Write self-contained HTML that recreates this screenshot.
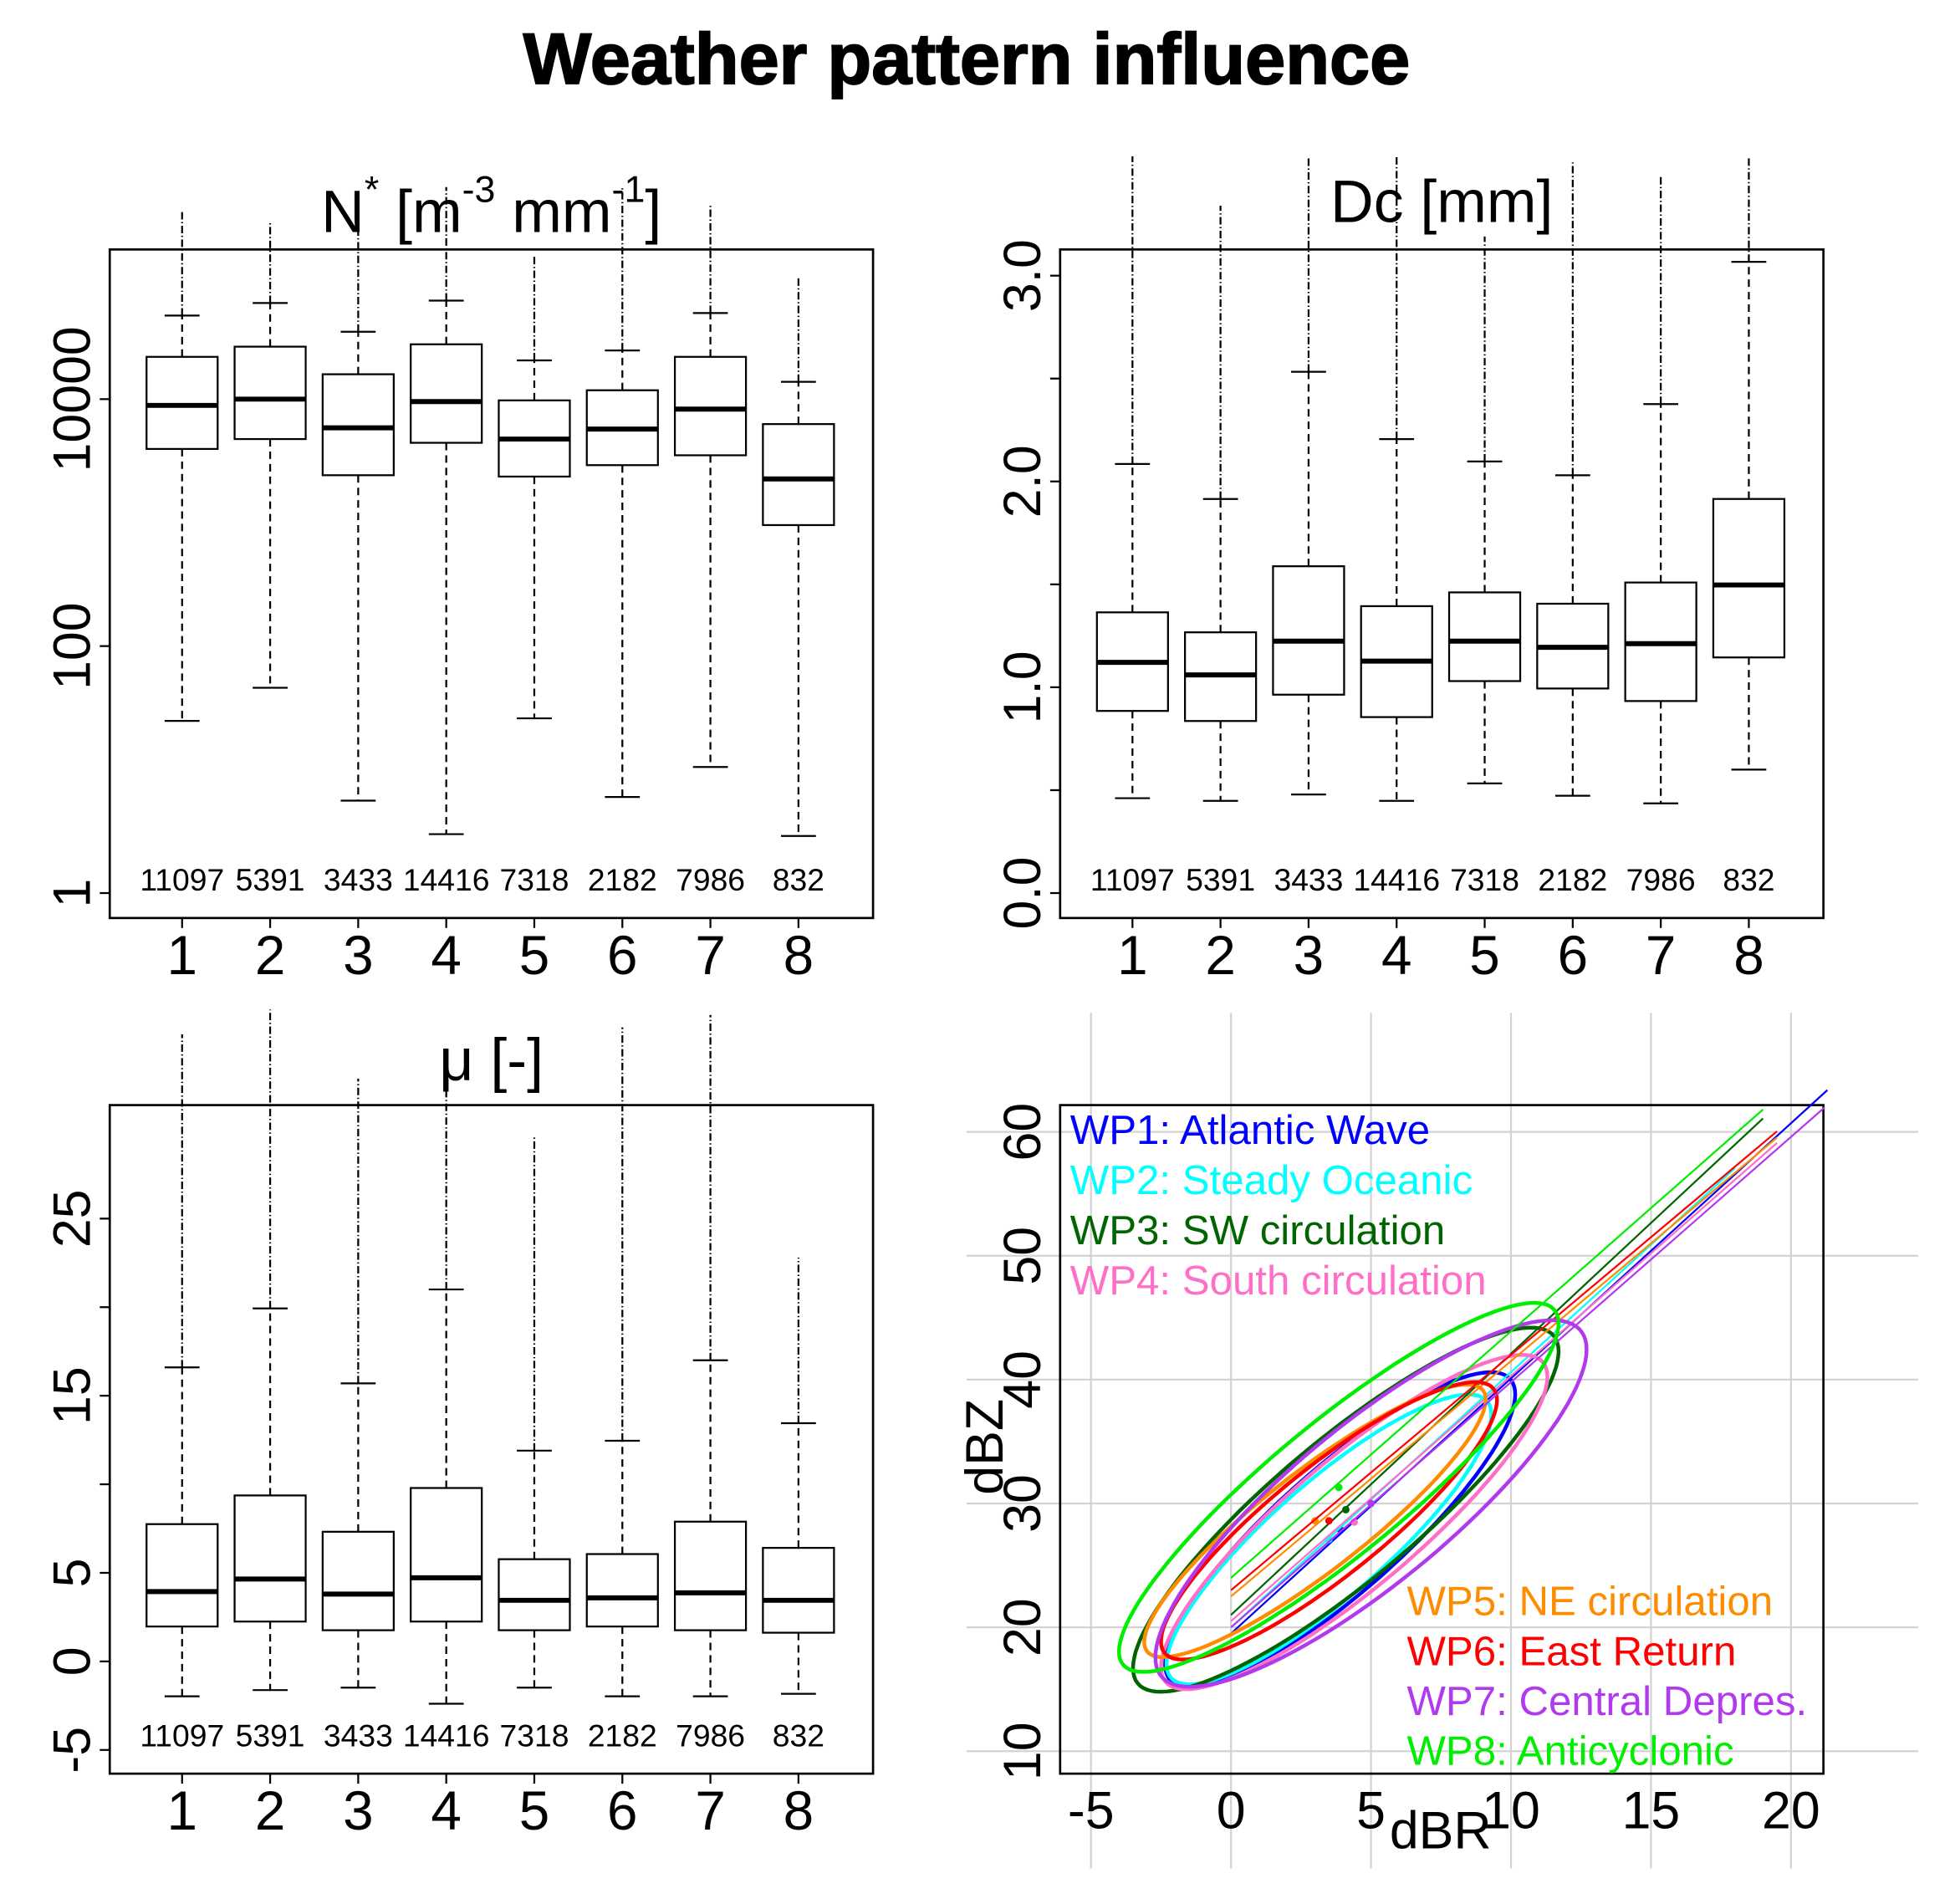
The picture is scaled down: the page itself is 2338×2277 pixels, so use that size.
<!DOCTYPE html>
<html><head><meta charset="utf-8"><style>
html,body{margin:0;padding:0;background:#fff;}
svg{display:block;font-family:"Liberation Sans",Arial,sans-serif;}
</style></head><body>
<svg id="fig" width="2338" height="2277" viewBox="0 0 1567.5 1526.5" preserveAspectRatio="none" xmlns="http://www.w3.org/2000/svg">
<text x="775" y="67" text-anchor="middle" font-size="58" font-weight="bold" stroke="#000" stroke-width="1.2">Weather pattern influence</text>
</svg>
<script>
const categories=[1,2,3,4,5,6,7,8];
const counts=["11097","5391","3433","14416","7318","2182","7986","832"];
// N* (log)  : [top outlier, upper cap, q3, median, q1, lower cap]
const nTop=[343000,278000,259000,521000,145000,521000,385000,97700];
const nCap=[47500,60000,35100,62800,20600,24800,49800,13800];
const nQ3=[22000,26600,15900,27800,9770,11800,22000,6280];
const nMed=[8900,10000,5860,9550,4750,5720,8300,2260];
const nQ1=[3950,4750,2420,4430,2360,2920,3510,955];
const nLow=[24.8,46,5.6,3.0,26,6.0,10.5,2.9];
const nTicks=[1,100,10000];
// Dc
const dTop=[3.58,3.34,3.58,3.58,3.19,3.55,3.49,3.58];
const dCap=[2.085,1.915,2.533,2.206,2.097,2.03,2.376,3.067];
const dQ3=[1.364,1.267,1.588,1.394,1.461,1.406,1.509,1.915];
const dMed=[1.121,1.06,1.224,1.127,1.224,1.194,1.212,1.497];
const dQ1=[0.885,0.836,0.964,0.855,1.03,0.994,0.933,1.145];
const dLow=[0.461,0.448,0.479,0.448,0.533,0.473,0.436,0.6];
const dTicks=[0,0.5,1,1.5,2,2.5,3];
const dLabels=["0.0","","1.0","","2.0","","3.0"];
// mu
const mTop=[35.4,36.8,32.9,33.2,29.7,35.8,36.5,22.8];
const mCap=[16.6,19.93,15.7,21.0,11.9,12.46,17.0,13.45];
const mQ3=[7.75,9.37,7.32,9.79,5.77,6.06,7.89,6.41];
const mMed=[3.94,4.65,3.8,4.72,3.45,3.59,3.87,3.45];
const mQ1=[1.97,2.25,1.76,2.25,1.76,1.97,1.76,1.62];
const mLow=[-1.97,-1.62,-1.48,-2.39,-1.48,-1.97,-1.97,-1.83];
const mTicks=[-5,0,5,10,15,20,25];
const mLabels=["-5","0","5","","15","","25"];
// scatter ellipses
const wpNames=["WP1: Atlantic Wave","WP2: Steady Oceanic","WP3: SW circulation","WP4: South circulation","WP5: NE circulation","WP6: East Return","WP7: Central Depres.","WP8: Anticyclonic"];
const wpColors=["#0000ff","#00ffff","#006400","#ff6ec7","#ff8c00","#ff0000","#b23aee","#00ee00"];
const eCx=[3.9,3.5,4.1,4.4,3.0,3.5,5.0,3.85];
const eCy=[27.9,27.1,29.5,28.5,28.6,28.6,30.0,31.3];
const eSx=[6.25,5.8,7.6,6.9,6.1,6.0,7.7,7.85];
const eSy=[12.7,11.7,14.7,13.5,11.0,11.2,14.8,14.9];
const eRho=[0.86,0.86,0.87,0.87,0.89,0.87,0.84,0.89];
const lIntercept=[19.5,20,21,20.5,22.5,23,20,24];
const lSlope=[2.06,2.06,2.11,1.98,1.9,1.9,1.98,1.99];
const lXmax=[21.3,18,19,19.5,19.5,19.5,21.2,19];
const sxTicks=[-5,0,5,10,15,20];
const syTicks=[10,20,30,40,50,60];

const svg=document.getElementById('fig');
const NS="http://www.w3.org/2000/svg";
function mk(tag,attrs,parent){const e=document.createElementNS(NS,tag);for(const k in attrs)e.setAttribute(k,attrs[k]);(parent||svg).appendChild(e);return e;}

function boxPanel(name,L,T,R,B,yFn,ticks,labels,top,cap,q3,med,q1,low,title,titleY){
  const g=mk('g',{});
  
  
  const xf=i=>146+(L-88)+(i-1)*70.6;
  categories.forEach((c,k)=>{
    const x=xf(c),hw=28.5,cw=14;
    const bg=mk('g',{},g);
    
    
    mk('line',{x1:x,x2:x,y1:yFn(cap[k]),y2:yFn(top[k]),stroke:'#000','stroke-width':1.5,'stroke-dasharray':'6 2 1 2'},bg);
    mk('line',{x1:x,x2:x,y1:yFn(q3[k]),y2:yFn(cap[k]),stroke:'#000','stroke-width':1.5,'stroke-dasharray':'6 4'},bg);
    mk('line',{x1:x,x2:x,y1:yFn(q1[k]),y2:yFn(low[k]),stroke:'#000','stroke-width':1.5,'stroke-dasharray':'6 4'},bg);
    mk('line',{x1:x-cw,x2:x+cw,y1:yFn(cap[k]),y2:yFn(cap[k]),stroke:'#000','stroke-width':1.5},bg);
    mk('line',{x1:x-cw,x2:x+cw,y1:yFn(low[k]),y2:yFn(low[k]),stroke:'#000','stroke-width':1.5},bg);
    mk('rect',{x:x-hw,y:yFn(q3[k]),width:2*hw,height:yFn(q1[k])-yFn(q3[k]),fill:'#fff',stroke:'#000','stroke-width':1.5},bg);
    mk('line',{x1:x-hw,x2:x+hw,y1:yFn(med[k]),y2:yFn(med[k]),stroke:'#000','stroke-width':4},bg);
    const ct=mk('text',{x:x,y:B-22,'text-anchor':'middle','font-size':25},g);ct.textContent=counts[k];
    
    
    mk('line',{x1:x,x2:x,y1:B,y2:B+8,stroke:'#000','stroke-width':1.5},g);
    const xl=mk('text',{x:x,y:B+45,'text-anchor':'middle','font-size':44},g);xl.textContent=c;
    
    
  });
  mk('rect',{x:L,y:T,width:R-L,height:B-T,fill:'none',stroke:'#000','stroke-width':1.8},g);
  ticks.forEach((t,k)=>{
    const y=yFn(t);
    mk('line',{x1:L-8,x2:L,y1:y,y2:y,stroke:'#000','stroke-width':1.5},g);
    if(labels[k]){const tl=mk('text',{x:0,y:0,'text-anchor':'middle','font-size':42,transform:`translate(${L-16},${y}) rotate(-90)`},g);tl.textContent=labels[k];
    
    }
  });
  const tt=mk('text',{x:(L+R)/2,y:titleY,'text-anchor':'middle','font-size':48},g);
  tt.innerHTML=title;
  
  
}
boxPanel('nstar-panel',88,200,700,736,v=>716-99*Math.log10(v),nTicks,["1","100","10000"],nTop,nCap,nQ3,nMed,nQ1,nLow,
 'N<tspan dy="-24" font-size="30">*</tspan><tspan dy="24"> [m</tspan><tspan dy="-24" font-size="30">-3</tspan><tspan dy="24"> mm</tspan><tspan dy="-24" font-size="30">-1</tspan><tspan dy="24">]</tspan>',186);
boxPanel('dc-panel',850,200,1462,736,v=>716-165*v,dTicks,dLabels,dTop,dCap,dQ3,dMed,dQ1,dLow,'Dc [mm]',178);
boxPanel('mu-panel',88,886,700,1422,v=>1332-14.2*v,mTicks,mLabels,mTop,mCap,mQ3,mMed,mQ1,mLow,'μ [-]',866);

// scatter panel
const sx=v=>987+22.45*v, sy=v=>1404-9.93*(v-10);
const sg=mk('g',{});


sxTicks.forEach(t=>{mk('line',{x1:sx(t),x2:sx(t),y1:812,y2:1498,stroke:'#d3d3d3','stroke-width':1.5},sg);
 const l=mk('text',{x:sx(t),y:1466,'text-anchor':'middle','font-size':42},sg);l.textContent=t;
 
 });
syTicks.forEach(t=>{mk('line',{x1:775,x2:1538,y1:sy(t),y2:sy(t),stroke:'#d3d3d3','stroke-width':1.5},sg);
 const l=mk('text',{x:0,y:0,'text-anchor':'middle','font-size':42,transform:`translate(${834},${sy(t)}) rotate(-90)`},sg);l.textContent=t;
 
 });
mk('rect',{x:850,y:886,width:612,height:536,fill:'none',stroke:'#000','stroke-width':1.8},sg);
wpNames.forEach((n,k)=>{
  const g=mk('g',{},sg);
  
  
  let d='';
  for(let i=0;i<=120;i++){const t=i/120*2*Math.PI;
    const x=eCx[k]+eSx[k]*Math.cos(t),y=eCy[k]+eSy[k]*Math.cos(t+Math.acos(eRho[k]));
    d+=(i?'L':'M')+sx(x).toFixed(1)+','+sy(y).toFixed(1);}
  mk('path',{d:d+'Z',fill:'none',stroke:wpColors[k],'stroke-width':3},g);
  mk('line',{x1:sx(0),y1:sy(lIntercept[k]),x2:sx(lXmax[k]),y2:sy(lIntercept[k]+lSlope[k]*lXmax[k]),stroke:wpColors[k],'stroke-width':1.5},g);
  mk('circle',{cx:sx(eCx[k]),cy:sy(eCy[k]),r:3,fill:wpColors[k]},g);
  const top=k<4;
  const lt=mk('text',{x:top?858:1128,y:top?917+k*40.3:1295+(k-4)*40,'font-size':33,fill:wpColors[k]},sg);
  lt.textContent=n;
  
  
});
const xt=mk('text',{x:1155,y:1482,'text-anchor':'middle','font-size':42},sg);xt.textContent='dBR';


const yt=mk('text',{x:0,y:0,'text-anchor':'middle','font-size':42,transform:'translate(804,1160) rotate(-90)'},sg);yt.textContent='dBZ';


</script>
</body></html>
